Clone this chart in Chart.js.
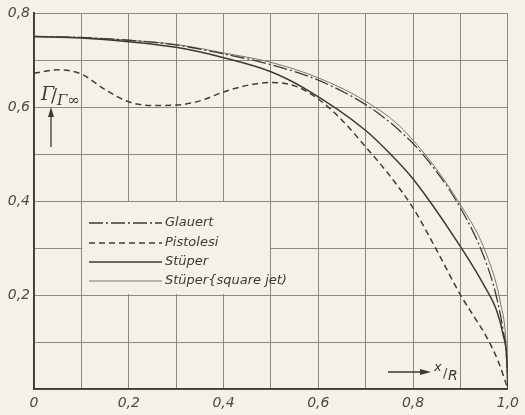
<!DOCTYPE html>
<html>
<head>
<meta charset="utf-8">
<script src="https://cdn.jsdelivr.net/npm/chart.js@4/dist/chart.umd.min.js"></script>
<style>
	html, body { margin: 0; padding: 0; background: #f4f2e7; }
	#wrap { width: 525px; height: 415px; }
</style>
</head>
<body>
<div id="wrap"><canvas id="circChart" width="525" height="415"></canvas></div>
<script>
// x/R positions and circulation ratio for each curve
const glauertX = [0, 0.1, 0.2, 0.3, 0.4, 0.5, 0.6, 0.7, 0.77, 0.825, 0.9, 0.95, 0.975, 0.99, 0.997, 1.0];
const glauertY = [0.75, 0.748, 0.742, 0.732, 0.713, 0.69, 0.657, 0.605, 0.551, 0.494, 0.385, 0.28, 0.2, 0.125, 0.07, 0];

const pistolesiX = [0, 0.05, 0.1, 0.15, 0.2, 0.25, 0.3, 0.35, 0.4, 0.45, 0.5, 0.55, 0.6, 0.65, 0.7, 0.75, 0.8, 0.85, 0.9, 0.93, 0.957, 0.98, 1.0];
const pistolesiY = [0.672, 0.679, 0.67, 0.637, 0.611, 0.603, 0.604, 0.613, 0.632, 0.646, 0.652, 0.645, 0.617, 0.572, 0.515, 0.455, 0.385, 0.295, 0.2, 0.152, 0.107, 0.058, 0];

const stuperX = [0, 0.1, 0.2, 0.3, 0.4, 0.5, 0.57, 0.7, 0.75, 0.8, 0.9, 0.95, 0.977, 0.99, 0.998, 1.0];
const stuperY = [0.75, 0.747, 0.739, 0.727, 0.705, 0.675, 0.64, 0.55, 0.502, 0.447, 0.303, 0.22, 0.165, 0.115, 0.06, 0];

const squareJetX = [0, 0.1, 0.2, 0.3, 0.4, 0.5, 0.6, 0.7, 0.78, 0.9, 0.957, 0.985, 0.996, 1.0];
const squareJetY = [0.75, 0.748, 0.742, 0.733, 0.715, 0.695, 0.662, 0.612, 0.551, 0.392, 0.281, 0.18, 0.1, 0];

const legendNames = ['Glauert', 'Pistolesi', 'Stüper', 'Stüper{square jet)'];

const xTicks = [0, 0.2, 0.4, 0.6, 0.8, 1.0];
const yTicks = [0.2, 0.4, 0.6, 0.8];

const ink = '#3a3a36';
const paper = '#f4f2e7';

function pts(xs, ys) {
	return xs.map((x, i) => ({ x: x, y: ys[i] }));
}

function fmt(v) {
	if (Math.abs(v) < 1e-9) return '0';
	return v.toFixed(1).replace('.', ',');
}

function hasTick(list, v) {
	return list.some(t => Math.abs(t - v) < 1e-6);
}

// blanks the grid behind the legend, then draws legend and axis captions
const decorPlugin = {
	id: 'decor',
	beforeDatasetsDraw(chart) {
		const ctx = chart.ctx;
		const xs = chart.scales.x, ys = chart.scales.y;
		const l = xs.getPixelForValue(0.1), r = xs.getPixelForValue(0.5);
		const t = ys.getPixelForValue(0.4), b = ys.getPixelForValue(0.2);
		ctx.save();
		ctx.fillStyle = paper;
		ctx.fillRect(l + 1, t + 1, r - l - 2, b - t - 2);
		ctx.restore();
	},
	afterDatasetsDraw(chart) {
		const ctx = chart.ctx;
		ctx.save();
		// legend
		const rowsY = [223, 243, 262, 281];
		chart.data.datasets.forEach((ds, i) => {
			const y = rowsY[i];
			ctx.beginPath();
			ctx.strokeStyle = ds.borderColor;
			ctx.lineWidth = ds.borderWidth;
			ctx.setLineDash(ds.borderDash || []);
			ctx.moveTo(89, y);
			ctx.lineTo(162, y);
			ctx.stroke();
			ctx.setLineDash([]);
			ctx.fillStyle = ink;
			ctx.font = 'italic 13px "DejaVu Sans", sans-serif';
			ctx.textBaseline = 'middle';
			ctx.textAlign = 'left';
			ctx.fillText(legendNames[i], 165, y);
		});

		// Gamma / Gamma_inf caption with upward arrow
		ctx.fillStyle = ink;
		ctx.textBaseline = 'alphabetic';
		ctx.font = 'italic 19px "DejaVu Serif", serif';
		ctx.fillText('Γ', 41, 100);
		ctx.font = '18px "DejaVu Serif", serif';
		ctx.fillText('/', 51, 102);
		ctx.font = 'italic 15px "DejaVu Serif", serif';
		ctx.fillText('Γ∞', 57, 105);
		ctx.strokeStyle = ink;
		ctx.lineWidth = 1.3;
		ctx.beginPath();
		ctx.moveTo(51, 147);
		ctx.lineTo(51, 112);
		ctx.stroke();
		ctx.beginPath();
		ctx.moveTo(51, 107);
		ctx.lineTo(48, 117);
		ctx.lineTo(54, 117);
		ctx.closePath();
		ctx.fill();

		// x/R caption with arrow
		ctx.beginPath();
		ctx.moveTo(388, 372);
		ctx.lineTo(424, 372);
		ctx.stroke();
		ctx.beginPath();
		ctx.moveTo(431, 372);
		ctx.lineTo(420, 369);
		ctx.lineTo(420, 375);
		ctx.closePath();
		ctx.fill();
		ctx.font = 'italic 13px "DejaVu Sans", sans-serif';
		ctx.fillText('x', 434, 371);
		ctx.font = '13px "DejaVu Sans", sans-serif';
		ctx.fillText('/', 443, 377);
		ctx.font = 'italic 14px "DejaVu Sans", sans-serif';
		ctx.fillText('R', 448, 380);
		ctx.restore();
	}
};

const lineBase = {
	fill: false,
	pointRadius: 0,
	cubicInterpolationMode: 'monotone',
	tension: 0.4
};

new Chart(document.getElementById('circChart'), {
	type: 'line',
	data: {
		datasets: [
			Object.assign({}, lineBase, {
				label: legendNames[0],
				data: pts(glauertX, glauertY),
				borderColor: '#3d3d38',
				borderWidth: 1.3,
				borderDash: [14, 3, 2, 3]
			}),
			Object.assign({}, lineBase, {
				label: legendNames[1],
				data: pts(pistolesiX, pistolesiY),
				borderColor: '#3d3d38',
				borderWidth: 1.5,
				borderDash: [6, 4]
			}),
			Object.assign({}, lineBase, {
				label: legendNames[2],
				data: pts(stuperX, stuperY),
				borderColor: '#3a3a36',
				borderWidth: 1.5
			}),
			Object.assign({}, lineBase, {
				label: legendNames[3],
				data: pts(squareJetX, squareJetY),
				borderColor: '#76766e',
				borderWidth: 1
			})
		]
	},
	options: {
		responsive: false,
		animation: false,
		layout: { padding: { top: 13, right: 10, left: 0, bottom: 0 } },
		plugins: {
			legend: { display: false },
			tooltip: { enabled: false }
		},
		scales: {
			x: {
				type: 'linear',
				min: 0,
				max: 1,
				afterFit(scale) { scale.height = 26; },
				grid: { color: '#8a8a82', lineWidth: 1, drawTicks: false },
				border: { color: '#3a3a36', width: 1.8 },
				ticks: {
					stepSize: 0.1,
					padding: 6,
					maxRotation: 0,
					autoSkip: false,
					color: '#4a4a44',
					font: { family: '"DejaVu Sans", sans-serif', style: 'italic', size: 14 },
					callback: v => hasTick(xTicks, v) ? fmt(v) : ''
				}
			},
			y: {
				type: 'linear',
				min: 0,
				max: 0.8,
				afterFit(scale) { scale.width = 34; },
				grid: { color: '#8a8a82', lineWidth: 1, drawTicks: false },
				border: { color: '#3a3a36', width: 1.8 },
				ticks: {
					stepSize: 0.1,
					padding: 4,
					autoSkip: false,
					color: '#4a4a44',
					font: { family: '"DejaVu Sans", sans-serif', style: 'italic', size: 14 },
					callback: v => hasTick(yTicks, v) ? fmt(v) : ''
				}
			}
		}
	},
	plugins: [decorPlugin]
});
</script>
</body>
</html>
